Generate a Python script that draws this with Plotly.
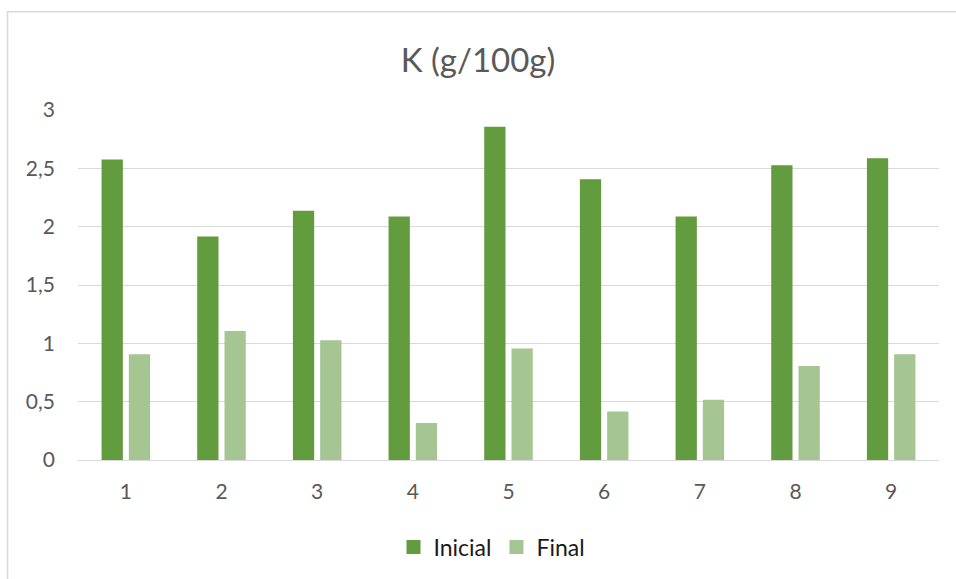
import plotly.graph_objects as go

# K content (g/100g) per sample, before and after
categories = ["1", "2", "3", "4", "5", "6", "7", "8", "9"]
inicial = [2.57, 1.91, 2.13, 2.08, 2.85, 2.40, 2.08, 2.52, 2.58]
final = [0.90, 1.10, 1.02, 0.31, 0.95, 0.41, 0.51, 0.80, 0.90]
y_ticks = [0, 0.5, 1, 1.5, 2, 2.5, 3]

W, H = 956, 579
L, R, T, B = 78, 17, 110, 118
plot_w = W - L - R
plot_h = H - T - B

GREEN_DARK = "#639B3F"
GREEN_LIGHT = "#A5C592"

fig = go.Figure()
fig.add_trace(go.Bar(name="Inicial", x=categories, y=inicial,
                     marker=dict(color=GREEN_DARK,
                                 line=dict(width=1.5, color=GREEN_DARK))))
fig.add_trace(go.Bar(name="Final", x=categories, y=final,
                     marker=dict(color=GREEN_LIGHT,
                                 line=dict(width=1.5, color=GREEN_LIGHT))))

# Light chart-area frame (top and left edges visible)
fig.add_shape(type="rect", xref="paper", yref="paper",
              x0=(7.5 - L) / plot_w, x1=1.2,
              y0=-0.5, y1=(H - B - 11.5) / plot_h,
              line=dict(color="#D9D9D9", width=1.5), fillcolor="rgba(0,0,0,0)",
              layer="below")

fig.update_layout(
    width=W, height=H,
    margin=dict(l=L, r=R, t=T, b=B),
    paper_bgcolor="white", plot_bgcolor="white",
    separators=",.",
    font=dict(family="Lato, 'Open Sans', sans-serif", color="#595959"),
    title=dict(text="K (g/100g)", x=0.5, xanchor="center",
               y=1 - 60 / H, yanchor="middle",
               font=dict(size=33, color="#595959")),
    barmode="group", bargap=0.43, bargroupgap=0.275,
    showlegend=True,
    legend=dict(orientation="h", x=(492 - L) / plot_w, xanchor="center",
                y=-(547 - (H - B)) / plot_h, yanchor="middle",
                font=dict(size=23, color="#1A1A1A"),
                itemsizing="constant", traceorder="normal"),
    xaxis=dict(type="category", showgrid=False, showline=False, zeroline=False,
               ticks="", ticklabelstandoff=17,
               tickfont=dict(size=21, color="#595959")),
    yaxis=dict(range=[0, 3], tickvals=y_ticks, showgrid=True,
               gridcolor="#D9D9D9", gridwidth=1.3, zeroline=True,
               zerolinecolor="#D9D9D9", zerolinewidth=1.3, showline=False,
               ticks="", ticklabelstandoff=22,
               tickfont=dict(size=21, color="#595959")),
)

fig.write_html("out.html")
